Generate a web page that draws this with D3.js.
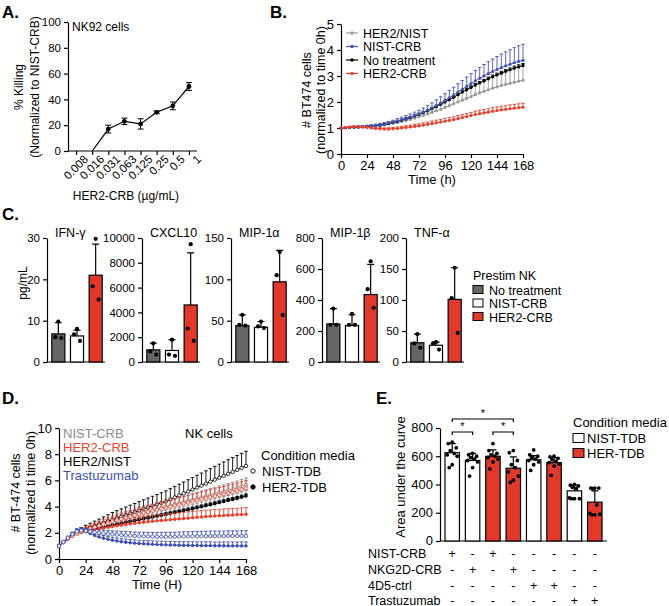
<!DOCTYPE html>
<html><head><meta charset="utf-8">
<script src="https://cdn.jsdelivr.net/npm/d3@7"></script>
<style>body{margin:0;background:#fff}svg{font-family:Arial,"Liberation Sans",sans-serif}</style>
</head><body><svg id="c" width="669" height="606"></svg>
<script>
// ---------- Panel A ----------
const doseLabels = ["0.008","0.016","0.031","0.063","0.125","0.25","0.5","1"];
const killMean = [null, 0, 17, 23, 21, 30, 35, 50];
const killErr  = [null, 0, 3, 2.5, 4, 1, 3, 3];

// ---------- Panel B ----------
const timeB = [0,4,8,12,16,20,24,28,32,36,40,44,48,52,56,60,64,68,72,76,80,84,88,92,96,100,104,108,112,116,120,124,128,132,136,140,144,148,152,156,160,164,168];
const bHerNist = [1.00,1.01,1.02,1.03,1.04,1.05,1.06,1.07,1.08,1.10,1.12,1.15,1.18,1.21,1.25,1.29,1.33,1.38,1.43,1.48,1.54,1.60,1.66,1.72,1.79,1.86,1.93,2.00,2.07,2.14,2.21,2.28,2.35,2.41,2.47,2.53,2.58,2.63,2.68,2.72,2.76,2.80,2.84];
const bHerNistErr = [0,0.01,0.02,0.02,0.02,0.03,0.03,0.04,0.04,0.05,0.06,0.07,0.08,0.09,0.10,0.11,0.12,0.13,0.14,0.15,0.16,0.18,0.20,0.22,0.24,0.26,0.28,0.30,0.32,0.34,0.36,0.38,0.40,0.42,0.44,0.46,0.48,0.50,0.52,0.54,0.56,0.58,0.60];
const bNistCrb = [1.00,1.01,1.02,1.03,1.04,1.05,1.06,1.08,1.10,1.12,1.15,1.18,1.22,1.27,1.32,1.37,1.42,1.48,1.54,1.61,1.69,1.77,1.86,1.96,2.06,2.16,2.27,2.38,2.49,2.60,2.71,2.81,2.91,3.00,3.09,3.17,3.25,3.32,3.39,3.45,3.51,3.56,3.60];
const bNistCrbErr = [0,0.01,0.02,0.02,0.03,0.03,0.04,0.04,0.05,0.05,0.06,0.07,0.08,0.09,0.10,0.11,0.12,0.13,0.14,0.16,0.18,0.20,0.22,0.24,0.26,0.28,0.30,0.32,0.34,0.36,0.38,0.40,0.42,0.44,0.46,0.48,0.50,0.52,0.54,0.56,0.58,0.60,0.62];
const bNoTx = [1.00,1.01,1.02,1.03,1.04,1.05,1.06,1.07,1.09,1.11,1.14,1.17,1.21,1.25,1.30,1.35,1.40,1.46,1.52,1.59,1.66,1.74,1.82,1.91,2.00,2.09,2.18,2.28,2.38,2.47,2.56,2.65,2.73,2.81,2.89,2.97,3.04,3.11,3.18,3.24,3.30,3.35,3.40];
const bNoTxErr = [0,0.01,0.01,0.01,0.02,0.02,0.02,0.02,0.02,0.03,0.03,0.03,0.03,0.03,0.03,0.04,0.04,0.04,0.04,0.04,0.04,0.05,0.05,0.05,0.05,0.05,0.05,0.05,0.06,0.06,0.06,0.06,0.06,0.06,0.07,0.07,0.07,0.07,0.07,0.07,0.08,0.08,0.08];
const bHer2Crb = [1.00,1.02,1.04,1.05,1.05,1.04,1.02,1.00,0.98,0.97,0.96,0.96,0.97,0.98,1.00,1.02,1.04,1.06,1.08,1.11,1.14,1.17,1.20,1.23,1.26,1.29,1.32,1.36,1.40,1.44,1.48,1.52,1.55,1.58,1.61,1.64,1.67,1.70,1.72,1.74,1.76,1.78,1.80];
const bHer2CrbErr = [0,0.01,0.01,0.02,0.02,0.02,0.03,0.03,0.03,0.04,0.04,0.05,0.05,0.06,0.06,0.07,0.07,0.08,0.08,0.09,0.09,0.10,0.10,0.10,0.11,0.11,0.11,0.12,0.12,0.12,0.12,0.13,0.13,0.13,0.13,0.14,0.14,0.14,0.14,0.15,0.15,0.15,0.15];
const bLegend = ["HER2/NIST","NIST-CRB","No treatment","HER2-CRB"];

// ---------- Panel C ----------
const cytokines = ["IFN-γ","CXCL10","MIP-1α","MIP-1β","TNF-α"];
const prestim = ["No treatment","NIST-CRB","HER2-CRB"];
const cMax = [30,10000,150,800,200];
const cStep = [10,2000,50,200,50];
const cMean = [[6.8,6.3,21],[980,930,4600],[44,42,97],[245,235,435],[31,27,101]];
const cErr  = [[2.7,1.4,7.5],[550,870,4200],[13,7,38],[100,70,195],[14,5,51]];
const cDots = [
  [[9.8,6.0,5.8],[8.0,6.7,5.1],[29.8,18.3,15.1]],
  [[1500,850,600],[1800,600,500],[9500,2700,1700]],
  [[57,45,44],[49,43,41],[133,105,57]],
  [[345,240,240],[310,240,240],[650,470,350]],
  [[45,30,23],[32,30,20],[152,103,47]]
];

// ---------- Panel D ----------
const timeD = [0,4,8,12,16,20,24,28,32,36,40,44,48,52,56,60,64,68,72,76,80,84,88,92,96,100,104,108,112,116,120,124,128,132,136,140,144,148,152,156,160,164,168];
const dNistCrbNist = [1.00,1.28,1.55,1.78,1.95,2.08,2.20,2.32,2.44,2.56,2.67,2.78,2.88,2.98,3.08,3.18,3.27,3.36,3.45,3.54,3.63,3.72,3.81,3.90,3.99,4.08,4.17,4.26,4.35,4.44,4.53,4.62,4.71,4.80,4.89,4.98,5.07,5.16,5.25,5.34,5.43,5.55,5.65];
const dNistCrbNistErr = [0,0.05,0.06,0.08,0.10,0.12,0.14,0.16,0.18,0.20,0.22,0.24,0.26,0.28,0.30,0.31,0.32,0.33,0.34,0.35,0.36,0.37,0.38,0.39,0.40,0.41,0.42,0.43,0.44,0.45,0.46,0.47,0.48,0.49,0.50,0.50,0.51,0.51,0.52,0.52,0.53,0.53,0.54];
const dNistCrbHer = [1.00,1.28,1.55,1.78,1.95,2.06,2.15,2.23,2.31,2.39,2.47,2.55,2.63,2.71,2.79,2.87,2.95,3.02,3.09,3.16,3.23,3.30,3.37,3.44,3.51,3.58,3.65,3.72,3.79,3.86,3.93,4.00,4.08,4.16,4.24,4.32,4.40,4.48,4.56,4.64,4.72,4.82,4.92];
const dNistCrbHerErr = [0,0.04,0.05,0.06,0.07,0.08,0.09,0.10,0.11,0.12,0.13,0.14,0.15,0.16,0.17,0.18,0.18,0.19,0.19,0.20,0.20,0.21,0.21,0.22,0.22,0.23,0.23,0.24,0.24,0.25,0.25,0.26,0.26,0.27,0.27,0.28,0.28,0.29,0.29,0.30,0.30,0.31,0.31];
const dHer2CrbNist = [1.00,1.28,1.55,1.78,1.95,2.08,2.20,2.32,2.43,2.54,2.65,2.76,2.86,2.96,3.06,3.16,3.25,3.34,3.43,3.52,3.60,3.68,3.76,3.84,3.92,4.00,4.08,4.16,4.24,4.32,4.40,4.48,4.56,4.64,4.72,4.80,4.88,4.96,5.04,5.12,5.20,5.30,5.40];
const dHer2CrbNistErr = [0,0.05,0.08,0.10,0.14,0.18,0.22,0.26,0.30,0.33,0.36,0.38,0.40,0.42,0.44,0.45,0.46,0.47,0.48,0.49,0.50,0.50,0.51,0.51,0.52,0.52,0.53,0.53,0.54,0.54,0.55,0.55,0.56,0.56,0.57,0.57,0.58,0.58,0.59,0.59,0.60,0.60,0.60];
const dHer2CrbHer = [1.00,1.28,1.55,1.78,1.95,2.05,2.12,2.18,2.24,2.30,2.36,2.42,2.48,2.53,2.58,2.63,2.68,2.72,2.76,2.80,2.84,2.88,2.91,2.94,2.97,3.00,3.03,3.06,3.09,3.12,3.15,3.18,3.21,3.24,3.26,3.28,3.30,3.32,3.34,3.36,3.38,3.40,3.42];
const dHer2CrbHerErr = [0,0.05,0.08,0.12,0.16,0.20,0.24,0.28,0.31,0.34,0.36,0.38,0.40,0.41,0.42,0.43,0.44,0.44,0.45,0.45,0.46,0.46,0.46,0.47,0.47,0.47,0.47,0.48,0.48,0.48,0.48,0.48,0.49,0.49,0.49,0.49,0.49,0.50,0.50,0.50,0.50,0.50,0.50];
const dHerNistNist = [1.00,1.30,1.60,1.85,2.05,2.20,2.32,2.43,2.54,2.65,2.76,2.88,3.00,3.11,3.23,3.35,3.47,3.58,3.70,3.82,3.93,4.05,4.17,4.28,4.40,4.55,4.70,4.85,5.00,5.15,5.30,5.45,5.60,5.75,5.90,6.05,6.20,6.35,6.50,6.65,6.80,6.95,7.10];
const dHerNistNistErr = [0,0.05,0.08,0.10,0.15,0.20,0.25,0.30,0.35,0.40,0.45,0.50,0.55,0.58,0.60,0.62,0.64,0.66,0.68,0.70,0.72,0.74,0.76,0.78,0.80,0.82,0.84,0.86,0.88,0.90,0.92,0.94,0.96,0.98,1.00,1.02,1.04,1.06,1.08,1.10,1.10,1.12,1.12];
const dHerNistHer = [1.00,1.28,1.55,1.78,1.95,2.05,2.13,2.20,2.27,2.34,2.41,2.48,2.56,2.63,2.70,2.77,2.84,2.91,2.98,3.05,3.12,3.19,3.26,3.33,3.40,3.47,3.54,3.61,3.68,3.75,3.82,3.90,3.98,4.06,4.14,4.22,4.30,4.38,4.46,4.54,4.62,4.71,4.80];
const dHerNistHerErr = [0,0.03,0.04,0.05,0.05,0.06,0.06,0.07,0.07,0.08,0.08,0.08,0.09,0.09,0.09,0.10,0.10,0.10,0.10,0.11,0.11,0.11,0.11,0.12,0.12,0.12,0.12,0.12,0.13,0.13,0.13,0.13,0.13,0.14,0.14,0.14,0.14,0.14,0.15,0.15,0.15,0.15,0.15];
const dTrastNist = [1.00,1.30,1.62,1.90,2.10,2.18,2.15,2.10,2.05,2.00,1.96,1.92,1.89,1.86,1.83,1.80,1.78,1.76,1.74,1.73,1.72,1.71,1.70,1.70,1.70,1.70,1.70,1.71,1.72,1.72,1.73,1.73,1.74,1.74,1.75,1.75,1.75,1.75,1.76,1.76,1.76,1.76,1.76];
const dTrastNistErr = [0,0.05,0.08,0.10,0.12,0.14,0.16,0.18,0.20,0.22,0.24,0.25,0.26,0.27,0.28,0.29,0.30,0.30,0.31,0.31,0.32,0.32,0.33,0.33,0.34,0.34,0.35,0.35,0.36,0.36,0.36,0.37,0.37,0.37,0.38,0.38,0.38,0.38,0.39,0.39,0.39,0.40,0.40];
const dTrastHer = [1.00,1.32,1.65,1.95,2.20,2.25,2.10,1.95,1.80,1.68,1.58,1.50,1.43,1.37,1.32,1.28,1.24,1.21,1.18,1.16,1.14,1.12,1.10,1.09,1.08,1.07,1.06,1.05,1.04,1.04,1.03,1.03,1.02,1.02,1.02,1.01,1.01,1.01,1.00,1.00,1.00,1.00,1.00];
const dTrastHerErr = [0,0.05,0.08,0.10,0.12,0.14,0.16,0.18,0.19,0.20,0.21,0.22,0.22,0.23,0.23,0.24,0.24,0.25,0.25,0.25,0.26,0.26,0.26,0.27,0.27,0.27,0.27,0.28,0.28,0.28,0.28,0.28,0.29,0.29,0.29,0.29,0.29,0.30,0.30,0.30,0.30,0.30,0.30];
const dTreatments = ["NIST-CRB","HER2-CRB","HER2/NIST","Trastuzumab"];
const dMedia = ["NIST-TDB","HER2-TDB"];

// ---------- Panel E ----------
const eMedia = ["NIST-TDB","HER-TDB"];
const eBarMedia = [0,0,1,1,0,1,0,1];
const eMean = [625,570,600,515,575,555,355,275];
const eErr  = [65,50,45,80,30,35,40,80];
const eDots = [
  [700,690,660,640,620,610,600,540,520],
  [620,610,600,590,580,570,560,520,460],
  [690,640,620,610,600,590,580,560,510],
  [640,625,570,540,520,490,460,430,415],
  [645,610,600,590,580,570,560,540,500],
  [600,595,585,575,565,555,545,530,465],
  [400,395,390,380,370,305,300,300,300],
  [375,375,375,370,255,195,190,185,185]
];
const eRowLabels = ["NIST-CRB","NKG2D-CRB","4D5-ctrl","Trastuzumab"];
const eSigns = [
  ["+","-","+","-","-","-","-","-"],
  ["-","+","-","+","-","-","-","-"],
  ["-","-","-","-","+","+","-","-"],
  ["-","-","-","-","-","-","+","+"]
];
const eSig = [[0,3,"*"],[0,1,"*"],[2,3,"*"]];

// ================= drawing =================
const svg = d3.select("#c");
const RED = "#e0392b", GRAY = "#999999", DGRAY = "#666666";

function label(x, y, s, o = {}) {
  return svg.append("text").attr("x", x).attr("y", y).text(s)
    .attr("font-size", o.size || 12).attr("fill", o.fill || "#000")
    .attr("text-anchor", o.anchor || "start")
    .attr("font-weight", o.weight || "normal")
    .attr("transform", o.rotate ? `rotate(${o.rotate},${x},${y})` : null);
}
function styleAxis(g, fs) {
  g.selectAll("path.domain").attr("stroke", "#000").attr("stroke-width", 1.2);
  g.selectAll(".tick line").attr("stroke", "#000").attr("stroke-width", 1.2);
  g.selectAll(".tick text").attr("font-size", fs).attr("fill", "#000")
    .attr("font-family", "Arial, 'Liberation Sans', sans-serif");
}

// ---- Panel letters
label(2, 18, "A.", {size: 17, weight: "bold"});
label(270, 18, "B.", {size: 17, weight: "bold"});
label(2, 220, "C.", {size: 17, weight: "bold"});
label(2, 404, "D.", {size: 17, weight: "bold"});
label(376, 404, "E.", {size: 17, weight: "bold"});

// ---- Panel A
(function(){
  const x = d3.scalePoint().domain(doseLabels).range([68, 197]).padding(0.5);
  const y = d3.scaleLinear().domain([0, 100]).range([151, 22]);
  const gy = svg.append("g").attr("transform", "translate(68,0)")
    .call(d3.axisLeft(y).tickValues([0,20,40,60,80,100]).tickSize(4).tickSizeOuter(0));
  styleAxis(gy, 11.5);
  const gx = svg.append("g").attr("transform", "translate(0,151)")
    .call(d3.axisBottom(x).tickSize(4).tickSizeOuter(0));
  gx.select("path.domain").attr("d", "M68,0H197");
  styleAxis(gx, 11.5);
  gx.selectAll(".tick text").attr("text-anchor", "end").attr("dx", "0.2em").attr("dy", "0.7em")
    .attr("transform", "rotate(-45)");
  const pts = doseLabels.map((d, i) => ({d, v: killMean[i], e: killErr[i]})).filter(p => p.v !== null);
  svg.append("path").datum(pts).attr("fill", "none").attr("stroke", "#000").attr("stroke-width", 1.2)
    .attr("d", d3.line().x(p => x(p.d)).y(p => y(p.v)));
  pts.filter(p => p.e > 0).forEach(p => {
    const cx = x(p.d);
    svg.append("path").attr("stroke", "#000").attr("stroke-width", 1).attr("fill", "none")
      .attr("d", `M${cx},${y(p.v - p.e)}V${y(p.v + p.e)}M${cx-3},${y(p.v + p.e)}H${cx+3}M${cx-3},${y(p.v - p.e)}H${cx+3}`);
  });
  svg.selectAll(null).data(pts.filter(p => p.v > 0)).enter().append("circle")
    .attr("cx", p => x(p.d)).attr("cy", p => y(p.v)).attr("r", 2.4).attr("fill", "#000");
  label(72, 31, "NK92 cells", {size: 12});
  label(23, 87, "% Killing", {size: 12, anchor: "middle", rotate: -90});
  label(39, 87, "(Normalized to NIST-CRB)", {size: 12, anchor: "middle", rotate: -90});
  label(126, 200, "HER2-CRB (µg/mL)", {size: 12, anchor: "middle"});
})();

// ---- generic time-course drawing
function drawSeries(x, y, t, vals, errs, color, open, r) {
  const g = svg.append("g");
  t.forEach((tt, i) => {
    if (errs[i] > 0) {
      const cx = x(tt), y0 = y(vals[i]), y1 = y(vals[i] + errs[i]);
      g.append("path").attr("stroke", color).attr("stroke-width", 0.9).attr("fill", "none")
        .attr("d", `M${cx},${y0}V${y1}M${cx-1.8},${y1}H${cx+1.8}`);
    }
  });
  g.append("path").datum(vals).attr("fill", "none").attr("stroke", color).attr("stroke-width", 1)
    .attr("d", d3.line().x((d, i) => x(t[i])).y(d => y(d)));
  g.selectAll("circle").data(vals).enter().append("circle")
    .attr("cx", (d, i) => x(t[i])).attr("cy", d => y(d)).attr("r", r)
    .attr("fill", open ? "#fff" : color).attr("stroke", color).attr("stroke-width", open ? 0.8 : 0);
}

// ---- Panel B
(function(){
  const x = d3.scaleLinear().domain([0, 168]).range([341, 523]);
  const y = d3.scaleLinear().domain([0, 5]).range([154, 24]);
  const gy = svg.append("g").attr("transform", "translate(341,0)")
    .call(d3.axisLeft(y).tickValues([0,1,2,3,4,5]).tickSize(4).tickSizeOuter(0).tickFormat(d3.format("d")));
  styleAxis(gy, 13);
  const gx = svg.append("g").attr("transform", "translate(0,154)")
    .call(d3.axisBottom(x).tickValues([0,24,48,72,96,120,144,168]).tickSize(4).tickSizeOuter(0));
  styleAxis(gx, 13);
  const series = [
    [bHerNist, bHerNistErr, GRAY],
    [bNoTx, bNoTxErr, "#000"],
    [bNistCrb, bNistCrbErr, "#4355b0"],
    [bHer2Crb, bHer2CrbErr, "#e8402f"]
  ];
  series.forEach(s => drawSeries(x, y, timeB, s[0], s[1], s[2], false, 1.6));
  const legCol = [GRAY, "#4355b0", "#000", "#e8402f"];
  bLegend.forEach((name, i) => {
    const yy = 33 + i * 13.5;
    svg.append("line").attr("x1", 346).attr("x2", 358).attr("y1", yy).attr("y2", yy).attr("stroke", legCol[i]).attr("stroke-width", 1.2);
    svg.append("circle").attr("cx", 352).attr("cy", yy).attr("r", 1.8).attr("fill", legCol[i]);
    label(363, yy + 4.5, name, {size: 12.5});
  });
  label(311, 90, "# BT474 cells", {size: 12.5, anchor: "middle", rotate: -90});
  label(325, 90, "(normalized to time 0h)", {size: 12.5, anchor: "middle", rotate: -90});
  label(432, 184, "Time (h)", {size: 13, anchor: "middle"});
})();

// ---- Panel C
(function(){
  const axX = [47, 142, 231, 322, 406];
  const fills = [DGRAY, "#fff", RED];
  cytokines.forEach((name, k) => {
    const x0 = axX[k];
    const y = d3.scaleLinear().domain([0, cMax[k]]).range([362, 238]);
    const x = d3.scaleBand().domain(prestim).range([x0 + 2, x0 + 58]).paddingInner(0.3).paddingOuter(0.15);
    const gy = svg.append("g").attr("transform", `translate(${x0},0)`)
      .call(d3.axisLeft(y).tickValues(d3.range(0, cMax[k] + 1, cStep[k])).tickSize(4).tickSizeOuter(0).tickFormat(d3.format("d")));
    styleAxis(gy, 11.5);
    svg.append("line").attr("x1", x0).attr("x2", x0 + 58).attr("y1", 362).attr("y2", 362).attr("stroke", "#000").attr("stroke-width", 1.2);
    prestim.forEach((p, j) => {
      const bx = x(p), bw = x.bandwidth(), cx = bx + bw / 2;
      const top = y(cMean[k][j] + cErr[k][j]);
      svg.append("path").attr("stroke", "#000").attr("stroke-width", 1.2).attr("fill", "none")
        .attr("d", `M${cx},${y(cMean[k][j])}V${top}M${cx-3.5},${top}H${cx+3.5}`);
      svg.append("rect").attr("x", bx).attr("y", y(cMean[k][j])).attr("width", bw)
        .attr("height", 362 - y(cMean[k][j])).attr("fill", fills[j]).attr("stroke", "#000").attr("stroke-width", 1.2);
      const offs = [0, -3, 3];
      cDots[k][j].forEach((v, m) => {
        svg.append("circle").attr("cx", cx + offs[m]).attr("cy", y(v)).attr("r", 2.1).attr("fill", "#000");
      });
    });
    label(x0 + 8, 237, name, {size: 12.5});
  });
  label(27, 283, "pg/mL", {size: 12, anchor: "middle", rotate: -90});
  label(473, 280, "Prestim NK", {size: 12.5});
  prestim.forEach((p, j) => {
    const yy = 290 + j * 13.5;
    svg.append("rect").attr("x", 473).attr("y", yy - 4.5).attr("width", 10).attr("height", 8)
      .attr("fill", fills[j]).attr("stroke", "#000").attr("stroke-width", 1);
    label(489, yy + 4.5, p, {size: 12.5});
  });
})();

// ---- Panel D
(function(){
  const x = d3.scaleLinear().domain([0, 168]).range([59, 246]);
  const y = d3.scaleLinear().domain([0, 10]).range([559, 428]);
  const gy = svg.append("g").attr("transform", "translate(59,0)")
    .call(d3.axisLeft(y).tickValues([0,2,4,6,8,10]).tickSize(4).tickSizeOuter(0));
  styleAxis(gy, 13);
  const gx = svg.append("g").attr("transform", "translate(0,559)")
    .call(d3.axisBottom(x).tickValues([0,24,48,72,96,120,144,168]).tickSize(4).tickSizeOuter(0));
  styleAxis(gx, 13);
  const DG = "#8a8a8a", DR = "#e8412f", DB = "#3d4fb0";
  const series = [
    [dNistCrbHer, dNistCrbHerErr, DG, false],
    [dNistCrbNist, dNistCrbNistErr, DG, true],
    [dHerNistHer, dHerNistHerErr, "#000", false],
    [dHerNistNist, dHerNistNistErr, "#000", true],
    [dHer2CrbHer, dHer2CrbHerErr, DR, false],
    [dHer2CrbNist, dHer2CrbNistErr, DR, true],
    [dTrastHer, dTrastHerErr, DB, false],
    [dTrastNist, dTrastNistErr, DB, true]
  ];
  series.forEach(s => drawSeries(x, y, timeD, s[0], s[1], s[2], s[3], 1.7));
  const tc = [DG, DR, "#000", DB];
  dTreatments.forEach((n, i) => label(63, 438 + i * 14, n, {size: 13, fill: tc[i]}));
  label(185, 438, "NK cells", {size: 13});
  label(261, 460, "Condition media", {size: 13});
  dMedia.forEach((m, i) => {
    const yy = 471 + i * 16;
    svg.append("circle").attr("cx", 253).attr("cy", yy).attr("r", 2.2)
      .attr("fill", i === 0 ? "#fff" : "#000").attr("stroke", "#000").attr("stroke-width", 0.9);
    label(262, yy + 4.5, m, {size: 13});
  });
  label(20, 493, "# BT-474 cells", {size: 12.5, anchor: "middle", rotate: -90});
  label(35, 493, "(normalized ti time 0h)", {size: 12.5, anchor: "middle", rotate: -90});
  label(157, 589, "Time (H)", {size: 13, anchor: "middle"});
})();

// ---- Panel E
(function(){
  const idx = d3.range(eMean.length);
  const x = d3.scaleBand().domain(idx).range([440, 607]).paddingInner(0.29).paddingOuter(0.245);
  const y = d3.scaleLinear().domain([0, 800]).range([541, 428]);
  const gy = svg.append("g").attr("transform", "translate(440,0)")
    .call(d3.axisLeft(y).tickValues([0,200,400,600,800]).tickSize(4).tickSizeOuter(0));
  styleAxis(gy, 13);
  gy.selectAll(".tick text").attr("dy", "0.3em");
  svg.append("line").attr("x1", 440).attr("x2", 607).attr("y1", 541).attr("y2", 541).attr("stroke", "#000").attr("stroke-width", 1.2);
  const fills = ["#fff", RED];
  idx.forEach(i => {
    const bx = x(i), bw = x.bandwidth(), cx = bx + bw / 2;
    const top = y(eMean[i] + eErr[i]);
    svg.append("path").attr("stroke", "#000").attr("stroke-width", 1.2).attr("fill", "none")
      .attr("d", `M${cx},${y(eMean[i])}V${top}M${cx-3.5},${top}H${cx+3.5}`);
    svg.append("rect").attr("x", bx).attr("y", y(eMean[i])).attr("width", bw).attr("height", 541 - y(eMean[i]))
      .attr("fill", fills[eBarMedia[i]]).attr("stroke", "#000").attr("stroke-width", 1.2);
    const offs = [0, -4, 4, -2, 2, -5, 5, 0, -3];
    eDots[i].forEach((v, m) => {
      svg.append("circle").attr("cx", cx + offs[m]).attr("cy", y(v)).attr("r", 1.9).attr("fill", "#000");
    });
  });
  const sigY = [419, 432, 432];
  eSig.forEach((s, k) => {
    const x1 = x(s[0]) + x.bandwidth() / 2, x2 = x(s[1]) + x.bandwidth() / 2, yy = sigY[k];
    svg.append("path").attr("stroke", "#000").attr("stroke-width", 1.2).attr("fill", "none")
      .attr("d", `M${x1},${yy + 3}V${yy}H${x2}V${yy + 3}`);
    label((x1 + x2) / 2, yy - 2, s[2], {size: 11, anchor: "middle"});
  });
  label(405, 477, "Area under the curve", {size: 13, anchor: "middle", rotate: -90});
  const rowY = [553, 569, 585, 600];
  eRowLabels.forEach((r, k) => {
    label(368, rowY[k] + 4.5, r, {size: 12.5});
    eSigns[k].forEach((s, i) => label(x(i) + x.bandwidth() / 2, rowY[k] + 4.5, s, {size: 12.5, anchor: "middle"}));
  });
  label(573, 427, "Condition media", {size: 13});
  eMedia.forEach((m, i) => {
    const yy = 438 + i * 15;
    svg.append("rect").attr("x", 573).attr("y", yy - 4.5).attr("width", 11).attr("height", 9)
      .attr("fill", fills[i]).attr("stroke", "#000").attr("stroke-width", 1);
    label(587, yy + 5, m, {size: 13});
  });
})();
</script></body></html>
